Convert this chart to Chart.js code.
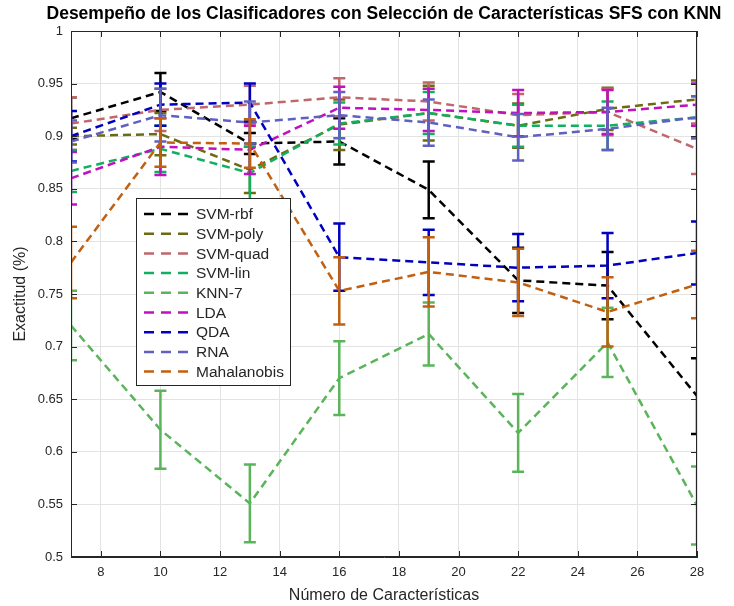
<!DOCTYPE html>
<html>
<head>
<meta charset="utf-8">
<script src="https://cdn.jsdelivr.net/npm/chart.js@4/dist/chart.umd.min.js"></script>
<style>
  html, body { margin: 0; padding: 0; background: #fff; }
  #wrap { width: 734px; height: 606px; position: relative; }
</style>
</head>
<body>
<div id="wrap"><canvas id="ch"></canvas></div>
<script>
'use strict';

// x values (number of features) and axis ticks
const feats = [7, 10, 13, 16, 19, 22, 25, 28];
const xTicks = [8, 10, 12, 14, 16, 18, 20, 22, 24, 26, 28];
const yTicks = [0.5, 0.55, 0.6, 0.65, 0.7, 0.75, 0.8, 0.85, 0.9, 0.95, 1];

const names = ['SVM-rbf', 'SVM-poly', 'SVM-quad', 'SVM-lin', 'KNN-7', 'LDA', 'QDA', 'RNA', 'Mahalanobis'];
const colors = ['#000000', '#6b6b12', '#c0676a', '#10b060', '#5ab55a', '#c010c0', '#0000c0', '#6060c0', '#c06010'];

// mean accuracy per classifier
const svmRbf  = [0.917, 0.942, 0.893, 0.895, 0.849, 0.763, 0.758, 0.653];
const svmPoly = [0.900, 0.902, 0.868, 0.911, 0.922, 0.910, 0.926, 0.935];
const svmQuad = [0.912, 0.925, 0.930, 0.937, 0.933, 0.920, 0.923, 0.888];
const svmLin  = [0.867, 0.888, 0.865, 0.912, 0.922, 0.910, 0.910, 0.918];
const knn7    = [0.720, 0.621, 0.551, 0.670, 0.712, 0.618, 0.704, 0.549];
const lda     = [0.860, 0.890, 0.887, 0.927, 0.925, 0.922, 0.923, 0.930];
const qda     = [0.900, 0.930, 0.932, 0.785, 0.780, 0.775, 0.777, 0.789];
const rna     = [0.895, 0.920, 0.913, 0.920, 0.913, 0.899, 0.907, 0.918];
const mahal   = [0.780, 0.894, 0.893, 0.753, 0.771, 0.761, 0.733, 0.759];

// half-width of error bars
const eRbf  = [0.020, 0.018, 0.010, 0.022, 0.027, 0.031, 0.032, 0.036];
const ePoly = [0.008, 0.020, 0.022, 0.024, 0.026, 0.021, 0.020, 0.018];
const eQuad = [0.025, 0.020, 0.018, 0.018, 0.018, 0.020, 0.022, 0.024];
const eLin  = [0.020, 0.022, 0.025, 0.020, 0.020, 0.020, 0.023, 0.020];
const eKnn  = [0.033, 0.037, 0.037, 0.035, 0.030, 0.037, 0.033, 0.037];
const eLda  = [0.025, 0.027, 0.023, 0.020, 0.020, 0.022, 0.021, 0.020];
const eQda  = [0.024, 0.020, 0.018, 0.032, 0.031, 0.032, 0.031, 0.030];
const eRna  = [0.020, 0.025, 0.020, 0.022, 0.022, 0.022, 0.020, 0.020];
const eMah  = [0.034, 0.023, 0.023, 0.032, 0.033, 0.032, 0.033, 0.032];

const means = [svmRbf, svmPoly, svmQuad, svmLin, knn7, lda, qda, rna, mahal];
const errs = [eRbf, ePoly, eQuad, eLin, eKnn, eLda, eQda, eRna, eMah];

const FONT = "'Liberation Sans', Arial, sans-serif";
const AXIS = '#262626';

// error bars drawn right after each dataset's line
const errorBars = {
  id: 'errorBars',
  afterDatasetDraw(chart, args) {
    const ds = chart.data.datasets[args.index];
    const xs = chart.scales.x, ys = chart.scales.y, c = chart.ctx;
    const a = chart.chartArea;
    c.save();
    c.beginPath(); c.rect(a.left, a.top - 2, a.right - a.left, a.bottom - a.top + 4); c.clip();
    c.strokeStyle = ds.borderColor; c.lineWidth = 2.5; c.setLineDash([]);
    ds.data.forEach((p, i) => {
      const x = xs.getPixelForValue(p.x);
      const y1 = ys.getPixelForValue(p.y + ds.err[i]);
      const y2 = ys.getPixelForValue(p.y - ds.err[i]);
      c.beginPath();
      c.moveTo(x, y1); c.lineTo(x, y2);
      c.moveTo(x - 6, y1); c.lineTo(x + 6, y1);
      c.moveTo(x - 6, y2); c.lineTo(x + 6, y2);
      c.stroke();
    });
    c.restore();
  }
};

// box, inward ticks, title, legend
const frame = {
  id: 'frame',
  afterDraw(chart) {
    const c = chart.ctx, a = chart.chartArea;
    const xs = chart.scales.x, ys = chart.scales.y;
    c.save();
    c.strokeStyle = AXIS; c.lineWidth = 1; c.setLineDash([]);
    c.strokeRect(a.left + 0.5, a.top + 0.5, a.right - a.left - 1, a.bottom - a.top - 1);
    c.beginPath();
    xTicks.forEach(v => {
      const x = Math.round(xs.getPixelForValue(v)) + 0.5;
      c.moveTo(x, a.bottom); c.lineTo(x, a.bottom - 6);
      c.moveTo(x, a.top); c.lineTo(x, a.top + 6);
    });
    yTicks.forEach(v => {
      const y = Math.round(ys.getPixelForValue(v)) + 0.5;
      c.moveTo(a.left, y); c.lineTo(a.left + 6, y);
      c.moveTo(a.right, y); c.lineTo(a.right - 6, y);
    });
    c.stroke();

    c.fillStyle = '#000';
    c.font = 'bold 17.5px ' + FONT;
    c.textAlign = 'center'; c.textBaseline = 'middle';
    c.fillText('Desempeño de los Clasificadores con Selección de Características SFS con KNN', 384, 14);

    // legend
    const lx = 136, ly = 198, lw = 154, lh = 187;
    c.fillStyle = '#fff';
    c.fillRect(lx, ly, lw, lh);
    c.strokeStyle = AXIS;
    c.strokeRect(lx + 0.5, ly + 0.5, lw, lh);
    c.font = '15.5px ' + FONT;
    c.textAlign = 'left';
    chart.data.datasets.forEach((ds, i) => {
      const y = ly + 16 + i * 19.7;
      c.strokeStyle = ds.borderColor; c.lineWidth = 2.5;
      c.setLineDash([10, 7]);
      c.beginPath(); c.moveTo(lx + 8, y); c.lineTo(lx + 54, y); c.stroke();
      c.fillStyle = '#262626';
      c.fillText(ds.label, lx + 60, y + 1);
    });
    c.restore();
  }
};

new Chart(document.getElementById('ch'), {
  type: 'line',
  data: {
    datasets: names.map((n, i) => ({
      label: n,
      data: feats.map((f, j) => ({ x: f, y: means[i][j] })),
      err: errs[i],
      borderColor: colors[i],
      backgroundColor: colors[i],
      borderWidth: 2.5,
      borderDash: [8, 5],
      pointRadius: 0,
      tension: 0,
      fill: false,
      order: names.length - i
    }))
  },
  options: {
    responsive: true, maintainAspectRatio: false, animation: false,
    layout: { padding: { top: 31, right: 37, left: 0, bottom: 0 } },
    plugins: { legend: { display: false }, title: { display: false }, tooltip: { enabled: false } },
    scales: {
      x: {
        type: 'linear', min: 7, max: 28,
        afterBuildTicks: s => { s.ticks = xTicks.map(v => ({ value: v })); },
        afterFit: s => { s.height = 49; },
        grid: { color: '#e3e3e3', drawTicks: false },
        border: { color: AXIS },
        ticks: { color: AXIS, font: { family: FONT, size: 13 }, padding: 8, maxRotation: 0 },
        title: { display: true, text: 'Número de Características', color: AXIS, font: { family: FONT, size: 16 }, padding: { top: 0, bottom: 1 } }
      },
      y: {
        min: 0.5, max: 1,
        afterBuildTicks: s => { s.ticks = yTicks.map(v => ({ value: v })); },
        afterFit: s => { s.width = 71; },
        grid: { color: '#e3e3e3', drawTicks: false },
        border: { color: AXIS },
        ticks: { color: AXIS, font: { family: FONT, size: 13 }, padding: 8, callback: v => String(+v.toFixed(2)) },
        title: { display: true, text: 'Exactitud (%)', color: AXIS, font: { family: FONT, size: 16 }, padding: { top: 11, bottom: 0 } }
      }
    }
  },
  plugins: [errorBars, frame]
});
</script>
</body>
</html>
